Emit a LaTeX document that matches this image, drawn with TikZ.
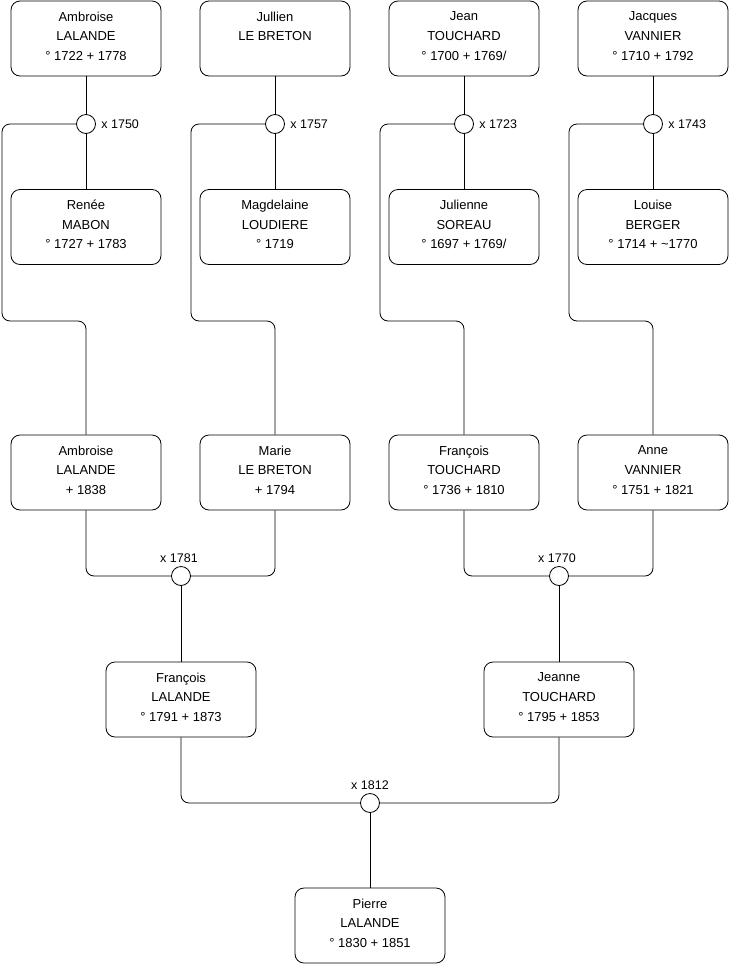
\documentclass[tikz,border=0pt]{standalone}
\usepackage{fontspec}
\setmainfont{Liberation Sans}
\usetikzlibrary{positioning}
\tikzset{
  pers/.style={draw, rounded corners=9pt, minimum width=150pt,
               minimum height=75pt, inner sep=0pt, align=center,
               text depth=5pt,
               font=\fontsize{13}{19.7}\selectfont, line width=0.8pt},
  wed/.style ={draw, circle, minimum size=19pt, inner sep=0pt,
               fill=white, line width=0.8pt},
  lnk/.style ={line width=0.8pt, rounded corners=8pt},
  yr/.style  ={font=\fontsize{12.5}{14}\selectfont},
}
\begin{document}
\begin{tikzpicture}[x=1pt, y=-1pt]
  \useasboundingbox (0,0) rectangle (740,975);
  % generation 1
  \node[pers] (ambroiseA) at (86,38.5)  {Ambroise\\LALANDE\\° 1722 + 1778};
  \node[pers] (jullien)   at (275,38.5) {Jullien\\LE BRETON\\ };
  \node[pers] (jean)      at (464,38.5) {Jean\\TOUCHARD\\° 1700 + 1769/};
  \node[pers] (jacques)   at (653,38.5) {Jacques\\VANNIER\\° 1710 + 1792};
  \node[pers] (renee)     at (86,227)   {Renée\\MABON\\° 1727 + 1783};
  \node[pers] (magd)      at (275,227)  {Magdelaine\\LOUDIERE\\° 1719};
  \node[pers] (julienne)  at (464,227)  {Julienne\\SOREAU\\° 1697 + 1769/};
  \node[pers] (louise)    at (653,227)  {Louise\\BERGER\\° 1714 + \textasciitilde1770};
  \node[wed] (w1750) at (86,124)  {};
  \node[wed] (w1757) at (275,124) {};
  \node[wed] (w1723) at (464,124) {};
  \node[wed] (w1743) at (653,124) {};
  \node[yr, right=2pt of w1750] {x 1750};
  \node[yr, right=2pt of w1757] {x 1757};
  \node[yr, right=2pt of w1723] {x 1723};
  \node[yr, right=2pt of w1743] {x 1743};
  % generation 2
  \node[pers] (ambroiseB) at (86,472.5)  {Ambroise\\LALANDE\\+ 1838};
  \node[pers] (marie)     at (275,472.5) {Marie\\LE BRETON\\+ 1794};
  \node[pers] (francoisT) at (464,472.5) {François\\TOUCHARD\\° 1736 + 1810};
  \node[pers] (anne)      at (653,472.5) {Anne\\VANNIER\\° 1751 + 1821};
  \node[wed] (w1781) at (181,576) {};
  \node[wed] (w1770) at (559,576) {};
  \node[yr, above=0pt of w1781, xshift=-2pt] {x 1781};
  \node[yr, above=0pt of w1770, xshift=-2pt] {x 1770};
  % generation 3
  \node[pers] (francoisL) at (181,699.5) {François\\LALANDE\\° 1791 + 1873};
  \node[pers] (jeanne)    at (559,699.5) {Jeanne\\TOUCHARD\\° 1795 + 1853};
  \node[wed] (w1812) at (370,803) {};
  \node[yr, above=0pt of w1812] {x 1812};
  \node[pers] (pierre) at (370,925.5) {Pierre\\LALANDE\\° 1830 + 1851};
  % links
  \draw[lnk] (ambroiseA) -- (w1750) -- (renee);
  \draw[lnk] (jullien) -- (w1757) -- (magd);
  \draw[lnk] (jean) -- (w1723) -- (julienne);
  \draw[lnk] (jacques) -- (w1743) -- (louise);
  \draw[lnk] (w1750.west) -| (2,321) -| (ambroiseB.north);
  \draw[lnk] (w1757.west) -| (191,321) -| (marie.north);
  \draw[lnk] (w1723.west) -| (380,321) -| (francoisT.north);
  \draw[lnk] (w1743.west) -| (569,321) -| (anne.north);
  \draw[lnk] (ambroiseB.south) |- (w1781.west);
  \draw[lnk] (marie.south) |- (w1781.east);
  \draw[lnk] (francoisT.south) |- (w1770.west);
  \draw[lnk] (anne.south) |- (w1770.east);
  \draw[lnk] (w1781) -- (francoisL);
  \draw[lnk] (w1770) -- (jeanne);
  \draw[lnk] (francoisL.south) |- (w1812.west);
  \draw[lnk] (jeanne.south) |- (w1812.east);
  \draw[lnk] (w1812) -- (pierre);
\end{tikzpicture}
\end{document}
